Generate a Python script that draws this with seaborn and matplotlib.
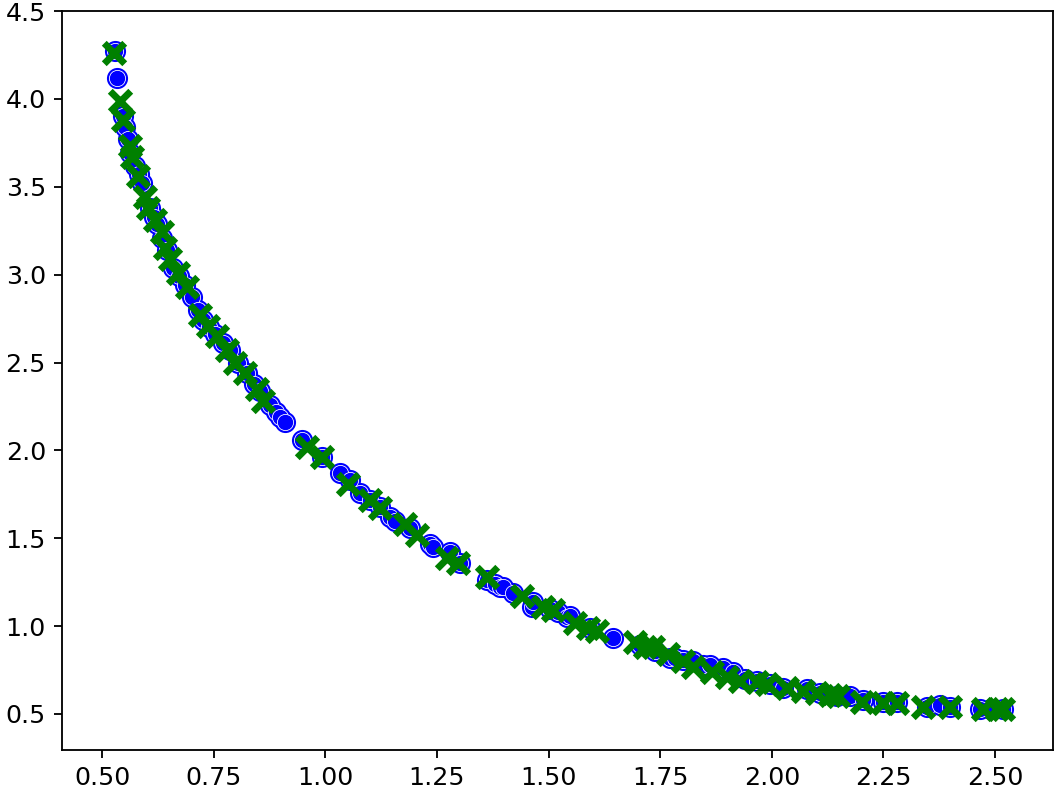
import numpy as np
import pandas as pd
import seaborn as sns
import matplotlib
matplotlib.use('Agg')
import matplotlib.pyplot as plt

# 蓝色圆点 (实际值)
x_blue = [0.529, 0.534, 0.547, 0.552, 0.558, 0.563, 0.574, 0.582, 0.590, 0.607,
          0.615, 0.623, 0.635, 0.646, 0.659, 0.672, 0.686, 0.702, 0.714, 0.726,
          0.740, 0.753, 0.770, 0.787, 0.805, 0.825, 0.840, 0.854, 0.876, 0.890,
          0.899, 0.910, 0.948, 0.993, 1.033, 1.055, 1.078, 1.100, 1.123, 1.145,
          1.156, 1.190, 1.235, 1.241, 1.279, 1.302, 1.362, 1.380, 1.391, 1.398,
          1.420, 1.463, 1.465, 1.503, 1.520, 1.541, 1.548, 1.593, 1.644, 1.705,
          1.738, 1.772, 1.783, 1.800, 1.824, 1.846, 1.862, 1.890, 1.913, 1.940,
          1.967, 1.995, 2.025, 2.079, 2.108, 2.146, 2.175, 2.204, 2.249, 2.280,
          2.348, 2.377, 2.399, 2.466, 2.490, 2.518]
y_blue = [4.27, 4.12, 3.90, 3.84, 3.77, 3.69, 3.62, 3.57, 3.52, 3.38,
          3.33, 3.29, 3.21, 3.14, 3.04, 2.99, 2.94, 2.87, 2.80, 2.74,
          2.70, 2.66, 2.61, 2.57, 2.50, 2.44, 2.38, 2.34, 2.26, 2.22,
          2.19, 2.16, 2.06, 1.96, 1.87, 1.83, 1.76, 1.72, 1.68, 1.62,
          1.60, 1.56, 1.47, 1.45, 1.42, 1.36, 1.26, 1.24, 1.22, 1.22,
          1.19, 1.11, 1.14, 1.10, 1.08, 1.05, 1.06, 0.99, 0.93, 0.89,
          0.86, 0.82, 0.82, 0.81, 0.80, 0.78, 0.78, 0.76, 0.74, 0.70,
          0.69, 0.67, 0.65, 0.64, 0.62, 0.60, 0.60, 0.58, 0.57, 0.57,
          0.54, 0.55, 0.54, 0.53, 0.53, 0.53]

# 绿色叉号 (预测值)
x_green = [0.527, 0.540, 0.547, 0.563, 0.567, 0.581, 0.596, 0.603, 0.619, 0.634,
           0.641, 0.652, 0.670, 0.690, 0.719, 0.737, 0.758, 0.780, 0.798, 0.820,
           0.847, 0.861, 0.959, 0.993, 1.051, 1.100, 1.123, 1.179, 1.206, 1.273,
           1.297, 1.362, 1.441, 1.488, 1.510, 1.559, 1.588, 1.609, 1.694, 1.716,
           1.734, 1.768, 1.801, 1.824, 1.866, 1.900, 1.929, 1.967, 1.989, 2.034,
           2.070, 2.101, 2.130, 2.148, 2.202, 2.249, 2.280, 2.339, 2.399, 2.473,
           2.504, 2.518]
y_green = [4.26, 3.99, 3.88, 3.73, 3.67, 3.56, 3.44, 3.38, 3.31, 3.24,
           3.15, 3.09, 3.01, 2.93, 2.77, 2.71, 2.65, 2.57, 2.50, 2.44,
           2.35, 2.28, 2.02, 1.96, 1.81, 1.72, 1.67, 1.58, 1.52, 1.39,
           1.36, 1.28, 1.17, 1.11, 1.09, 1.02, 0.99, 0.97, 0.91, 0.88,
           0.88, 0.84, 0.80, 0.77, 0.74, 0.71, 0.69, 0.68, 0.67, 0.65,
           0.63, 0.62, 0.61, 0.60, 0.57, 0.56, 0.56, 0.54, 0.54, 0.53,
           0.53, 0.53]

df_blue = pd.DataFrame({'x': x_blue, 'y': y_blue})
df_green = pd.DataFrame({'x': x_green, 'y': y_green})

fig, ax = plt.subplots(figsize=(1058 / 165, 792 / 165), dpi=165)
plt.subplots_adjust(left=0.0586, right=0.9953, bottom=0.053, top=0.9861)

# 外圈蓝色 + 内部白边圆点
sns.scatterplot(data=df_blue, x='x', y='y', color='blue', s=85, edgecolor='blue',
                linewidth=0, ax=ax)
sns.scatterplot(data=df_blue, x='x', y='y', color='blue', s=50, edgecolor='white',
                linewidth=0.35, ax=ax)
sns.scatterplot(data=df_green, x='x', y='y', color='green', marker='x', s=80,
                linewidth=3.0, ax=ax)

ax.set_xlim(0.41, 2.63)
ax.set_ylim(0.295, 4.5)
ax.set_xlabel('')
ax.set_ylabel('')
ax.set_xticks([0.5, 0.75, 1.0, 1.25, 1.5, 1.75, 2.0, 2.25, 2.5])
ax.tick_params(labelsize=11)

plt.savefig('out.png', dpi=165)
